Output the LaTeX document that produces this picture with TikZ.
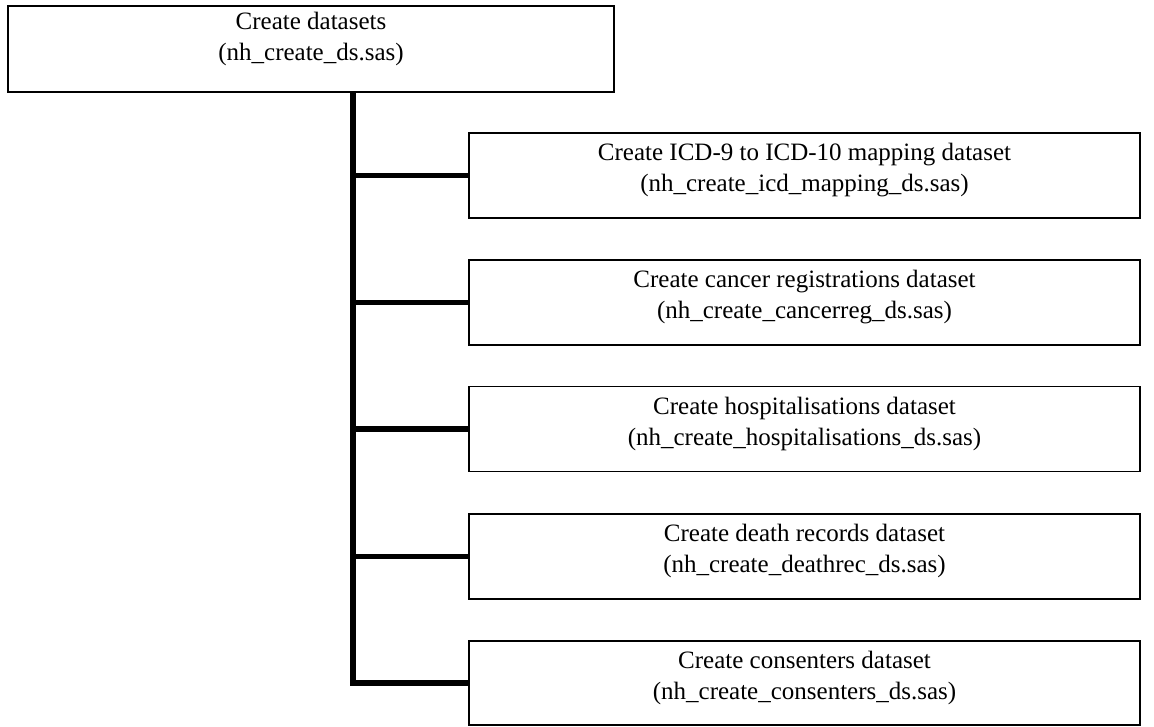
\documentclass[tikz,border=0pt]{standalone}
\usepackage{fontspec}
\setmainfont{Liberation Serif}
\begin{document}
\begin{tikzpicture}[x=1pt,y=-1pt,
  box/.style={draw=black, line width=1.5pt, fill=white, inner sep=0pt},
  lbl/.style={align=center, font=\fontsize{25}{31}\selectfont, inner sep=0pt},
  trunk/.style={draw=black, line width=5.5pt, line join=miter}]
\useasboundingbox (0,0) rectangle (1154,726);
% top box
\node[box, minimum width=606pt, minimum height=86pt] (top) at (311,49) {};
\node[lbl] (topt) at (311,39) {Create datasets\\(nh\_create\_ds.sas)};
% right boxes
\node[box, minimum width=671pt, minimum height=85pt] (b1) at (804.5,175.5) {};
\node[lbl] (b1t) at (804.5,170) {Create ICD-9 to ICD-10 mapping dataset\\(nh\_create\_icd\_mapping\_ds.sas)};
\node[box, minimum width=671pt, minimum height=85pt] (b2) at (804.5,302.5) {};
\node[lbl] (b2t) at (804.5,297) {Create cancer registrations dataset\\(nh\_create\_cancerreg\_ds.sas)};
\node[box, minimum width=671pt, minimum height=85pt] (b3) at (804.5,429) {};
\node[lbl] (b3t) at (804.5,423.5) {Create hospitalisations dataset\\(nh\_create\_hospitalisations\_ds.sas)};
\node[box, minimum width=671pt, minimum height=85pt] (b4) at (804.5,556.5) {};
\node[lbl] (b4t) at (804.5,551) {Create death records dataset\\(nh\_create\_deathrec\_ds.sas)};
\node[box, minimum width=671pt, minimum height=84pt] (b5) at (804.5,683) {};
\node[lbl] (b5t) at (804.5,677.5) {Create consenters dataset\\(nh\_create\_consenters\_ds.sas)};
% tree
\coordinate (tr) at (353,92);
\draw[trunk] (tr) |- (b5.west);
\foreach \b in {b1,b2,b3,b4} {
  \draw[trunk] (tr |- \b.west) -- (\b.west);
}
\end{tikzpicture}
\end{document}
